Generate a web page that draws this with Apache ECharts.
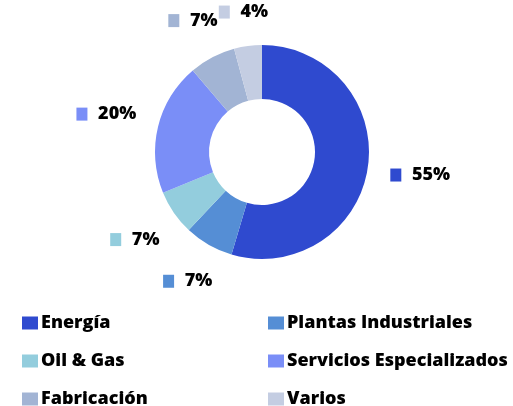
<!DOCTYPE html>
<html><head><meta charset="utf-8">
<script src="https://cdn.jsdelivr.net/npm/echarts@6/dist/echarts.min.js"></script>
<style>html,body{margin:0;padding:0;background:#fff}#c{width:513px;height:406px}</style>
</head><body><div id="c"></div>
<script>
const categories = ['Energía','Plantas Industriales','Oil & Gas','Servicios Especializados','Fabricación','Varios'];
const values = [54.6, 7.4, 6.8, 20.0, 7.0, 4.2];
const colors = ['#2F4ACF','#558ED5','#93CDDD','#7A8EF7','#A2B4D4','#C4CDE2'];
// legend grid: two columns, three rows
const legendCols = [22, 268];
const legendRows = [314, 352, 390];

const FONT = 'Open Sans';
const rich = {v:{fontFamily:FONT,fontWeight:800,fontSize:18,color:'#000',padding:[0,0,0,4]}};
colors.forEach((c,i)=>{ rich['s'+i] = {backgroundColor:c,width:11,height:13}; });

const chart = echarts.init(document.getElementById('c'), null, {renderer:'canvas'});
const legends = categories.map((name,i)=>({
  data:[name], orient:'horizontal', icon:'rect', itemWidth:16, itemHeight:13,
  left:legendCols[i%2], top:legendRows[Math.floor(i/2)], padding:0,
  selectedMode:false,
  textStyle:{fontFamily:FONT,fontWeight:800,fontSize:18,color:'#000',padding:[0,0,0,-2]}
}));
const GAP = 22;
chart.setOption({
  animation:false,
  color:colors,
  legend:legends,
  series:[{
    type:'pie',
    center:[262,152],
    radius:[53,107],
    startAngle:90,
    clockwise:true,
    avoidLabelOverlap:false,
    data:categories.map((n,i)=>({name:n,value:values[i]})),
    label:{
      show:true, position:'outside',
      formatter:p=>'{s'+p.dataIndex+'|}  {v|'+Math.round(p.percent)+'%}',
      rich:rich
    },
    labelLine:{show:true,length:10,length2:0,lineStyle:{opacity:0,width:0}},
    labelLayout:function(p){
      const pts = p.labelLinePoints;
      if(!pts || pts.length<2) return {};
      const p0 = pts[0], p1 = pts[1];
      let dx = p1[0]-p0[0], dy = p1[1]-p0[1];
      const len = Math.sqrt(dx*dx+dy*dy)||1; dx/=len; dy/=len;
      const w = p.labelRect.width, h = p.labelRect.height;
      const ext = w/2*Math.abs(dx) + h/2*Math.abs(dy);
      const d = GAP + ext;
      return {x:p0[0]+dx*d, y:p0[1]+dy*d, align:'center', verticalAlign:'middle'};
    },
    itemStyle:{borderWidth:0}
  }]
});
</script></body></html>
